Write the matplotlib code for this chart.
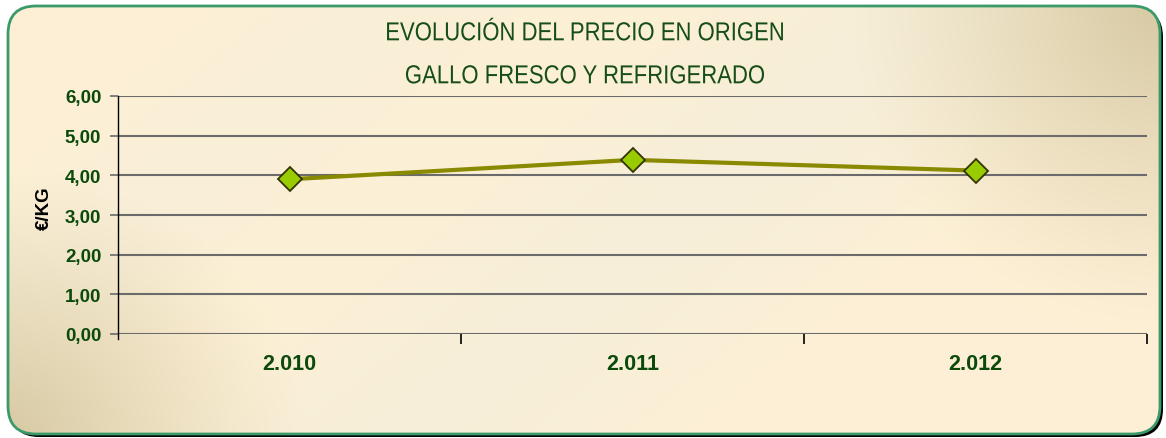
import numpy as np
import matplotlib
matplotlib.use("Agg")
import matplotlib.pyplot as plt
from matplotlib.patches import FancyBboxPatch, PathPatch
from matplotlib.textpath import TextPath
from matplotlib.font_manager import FontProperties
from matplotlib.transforms import Affine2D

years = ["2.010", "2.011", "2.012"]
prices = [3.90, 4.39, 4.12]
yticks = [0, 1, 2, 3, 4, 5, 6]
ytick_labels = ["0,00", "1,00", "2,00", "3,00", "4,00", "5,00", "6,00"]
title_lines = ["EVOLUCIÓN DEL PRECIO EN ORIGEN", "GALLO FRESCO Y REFRIGERADO"]
ylabel = "€/KG"

W, H = 1166, 439
fig = plt.figure(figsize=(W / 100, H / 100), dpi=100)
fig.patch.set_facecolor("white")

# background box
bg = fig.add_axes([0, 0, 1, 1])
bg.set_xlim(0, W)
bg.set_ylim(H, 0)
bg.axis("off")

shadow = FancyBboxPatch((11, 10), 1152, 428, boxstyle="round,pad=0,rounding_size=28",
                        facecolor="black", edgecolor="none", zorder=1)
bg.add_patch(shadow)

yy, xx = np.mgrid[0:H, 0:W]
u = xx / W
v = yy / H
base = np.array([253, 240, 213]) / 255.0
tan = np.array([214, 200, 162]) / 255.0
light = np.array([244, 238, 218]) / 255.0
d_tr = np.sqrt(((1 - u) * 3.6) ** 2 + (v * 1.3) ** 2)
w_tr = np.clip(1 - d_tr / 1.0, 0, 1) ** 1.2
d_bl = np.sqrt((u * 3.8) ** 2 + ((1 - v) * 1.6) ** 2)
w_bl = np.clip(1 - d_bl / 1.0, 0, 1) ** 1.2
band = np.exp(-(((u * 2.6) + v * 1.2 - 2.1) / 0.45) ** 2) * 0.7
band2 = np.exp(-(((u * 2.6) + v * 1.2 - 0.9) / 0.35) ** 2) * 0.4
img = base[None, None, :] * np.ones((H, W, 1))
img = img * (1 - band[..., None]) + light[None, None, :] * band[..., None]
img = img * (1 - band2[..., None]) + light[None, None, :] * band2[..., None]
img = img * (1 - w_tr[..., None]) + tan[None, None, :] * w_tr[..., None]
img = img * (1 - w_bl[..., None]) + tan[None, None, :] * w_bl[..., None]
im = bg.imshow(img, extent=(0, W, H, 0), zorder=2, interpolation="bilinear")
box = FancyBboxPatch((8, 7), 1152, 428, boxstyle="round,pad=0,rounding_size=28",
                     facecolor="none", edgecolor="#3a9a6a", linewidth=2.0, zorder=3)
bg.add_patch(box)
im.set_clip_path(box)

# titles (horizontally condensed text paths)
ov = fig.add_axes([0, 0, 1, 1])
ov.set_xlim(0, W)
ov.set_ylim(0, H)
ov.axis("off")
ov.patch.set_visible(False)
prop = FontProperties(family="Liberation Sans")
for line, yc in zip(title_lines, [32, 75]):
    tp = TextPath((0, 0), line, size=26, prop=prop)
    ext = tp.get_extents()
    sx = 0.85
    wpx = ext.width * sx
    cap = 26 * 0.716
    tr = Affine2D().translate(-ext.x0, 0).scale(sx, 1).translate(585 - wpx / 2, H - yc - cap / 2)
    path = tr.transform_path(tp)
    ov.add_patch(PathPatch(path, facecolor="#174d17", edgecolor="none", zorder=5))

# main axes
ax = fig.add_axes([118 / W, 1 - 335 / H, 1029 / W, 238 / H])
ax.set_facecolor("none")
ax.set_xlim(-0.5, 2.5)
ax.set_ylim(0, 6)
for y in yticks:
    ax.axhline(y, color="#6b6b6b", linewidth=1.5, zorder=1)
for s in ["top", "right", "bottom"]:
    ax.spines[s].set_visible(False)
ax.spines["left"].set_color("black")
ax.spines["left"].set_linewidth(1.0)
ax.spines["left"].set_bounds(-0.12, 6)

ax.plot(range(len(years)), prices, color="#8a8a00", linewidth=3, zorder=3,
        marker="D", markersize=12, markerfacecolor="#99cc00",
        markeredgecolor="#333300", markeredgewidth=1.3)

ax.set_yticks(yticks)
ax.set_yticklabels(ytick_labels, fontsize=13.5, fontweight="bold", color="#0b4a0b",
                   family="Liberation Sans")
ax.tick_params(axis="y", length=6, width=1.2, color="#6b6b6b", pad=6)

ax.set_xticks([0.5, 1.5, 2.5])
ax.set_xticklabels([])
ax.tick_params(axis="x", which="major", length=7, width=1.2, color="black")
ax.set_xticks(range(len(years)), minor=True)
ax.set_xticklabels(years, minor=True, fontsize=15.5, fontweight="bold",
                   color="#0b4a0b", family="Liberation Sans")
ax.tick_params(axis="x", which="minor", length=0, pad=14)

ax.set_ylabel(ylabel, fontsize=13.5, fontweight="bold", color="black",
              family="Liberation Sans")
ax.yaxis.set_label_coords(-(118 - 53) / 1029, (335 - 208) / 238)

fig.savefig("out.png", dpi=100)
